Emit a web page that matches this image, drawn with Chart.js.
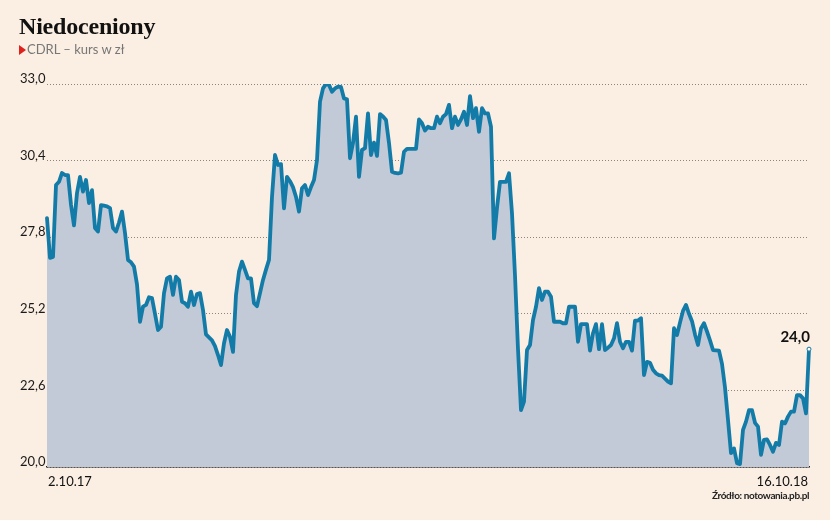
<!DOCTYPE html>
<html>
<head>
<meta charset="utf-8">
<script src="https://cdn.jsdelivr.net/npm/chart.js@4"></script>
<style>
  html,body{margin:0;padding:0;background:#FBEEE2;}
  #wrap{position:relative;width:830px;height:520px;overflow:hidden;}
  #c{position:absolute;left:0;top:0;}
  .t{position:absolute;white-space:nowrap;}
  #title{left:19px;top:13px;font:bold 24px "Liberation Serif","DejaVu Serif",serif;color:#111;letter-spacing:-0.2px;}
  #sub{left:19px;top:41px;font:13px Lato,"Open Sans",sans-serif;color:#777;}
  #sub .tri{display:inline-block;width:0;height:0;border-top:5px solid transparent;border-bottom:5px solid transparent;border-left:7px solid #E0201B;margin-right:1px;vertical-align:-1px;}
  #d0{left:48px;top:473px;font:13px Lato,sans-serif;color:#111;}
  #d1{right:22px;top:473px;font:13px Lato,sans-serif;color:#111;}
  #src{right:21px;top:489px;font:bold 10px Lato,sans-serif;color:#222;letter-spacing:-0.4px;}
</style>
</head>
<body>
<div id="wrap">
  <canvas id="c" width="830" height="520"></canvas>
  <div class="t" id="title">Niedoceniony</div>
  <div class="t" id="sub"><span class="tri"></span>CDRL – kurs w zł</div>
  <div class="t" id="d0"></div>
  <div class="t" id="d1"></div>
  <div class="t" id="src">Źródło: notowania.pb.pl</div>
</div>
<script>
// ---- data ----
const startDate = '2.10.17';
const endDate = '16.10.18';
const closes = [
 28.45,27.1,27.13,29.57,29.68,29.98,29.91,29.91,28.9,28.2,
 29.3,29.85,29.35,29.74,28.96,29.4,28.11,27.99,28.89,28.87,
 28.85,28.79,28.11,27.99,28.3,28.67,27.94,27.03,26.95,26.8,
 26.2,24.93,25.44,25.5,25.76,25.73,25.2,24.65,24.76,25.9,
 26.4,26.46,25.84,26.46,26.35,25.61,25.56,25.44,25.95,25.5,
 25.87,25.9,25.33,24.5,24.4,24.3,24.1,23.8,23.46,24.2,
 24.65,24.42,23.91,25.84,26.63,26.97,26.69,26.4,26.4,25.56,
 25.46,25.9,26.35,26.7,27.03,29.17,30.59,30.25,30.28,28.78,
 29.85,29.7,29.5,29.17,28.67,29.46,29.57,29.23,29.5,29.74,
 30.42,32.4,32.85,33.0,32.97,32.74,32.85,32.91,32.9,32.51,
 32.48,30.48,31.0,31.89,29.85,30.76,30.82,32.0,30.59,31.01,
 30.56,31.98,31.9,31.78,31.0,30.02,29.98,29.97,29.99,30.7,
 30.8,30.8,30.8,30.8,31.8,31.67,31.42,31.55,31.5,31.5,
 31.89,31.67,31.89,31.98,32.29,31.5,31.89,31.61,31.8,32.06,
 31.61,32.59,31.84,32.18,31.38,32.18,32.0,32.0,31.55,27.76,
 28.8,29.68,29.68,29.68,29.97,28.61,26.5,24.0,21.93,22.22,
 23.97,24.14,24.99,25.44,26.07,25.67,25.95,25.95,25.78,24.93,
 24.93,24.93,24.88,24.88,25.44,25.44,25.44,24.25,24.85,24.85,
 24.85,23.95,24.54,24.85,24.0,24.85,23.97,24.05,24.14,24.37,
 24.88,24.25,24.03,24.25,24.25,23.95,24.97,24.97,25.05,23.12,
 23.57,23.54,23.3,23.18,23.12,23.1,23.0,22.9,22.84,24.71,
 24.48,24.9,25.3,25.5,25.2,24.95,24.5,24.14,24.7,24.88,
 24.6,24.3,23.97,23.96,23.95,23.5,22.7,21.6,20.47,20.63,
 20.13,20.1,21.26,21.54,21.93,21.93,21.5,21.37,20.41,20.92,
 20.94,20.75,20.52,20.82,20.75,21.54,21.48,21.71,21.88,21.88,
 22.44,22.44,22.33,21.82,24.0
];
const sessions = closes.map((v, i) => i === 0 ? startDate : (i === closes.length - 1 ? endDate : ''));
const yTickValues = [20.0, 22.6, 25.2, 27.8, 30.4, 33.0];
const yTickLabels = ['20,0', '22,6', '25,2', '27,8', '30,4', '33,0'];
const lastLabel = '24,0';

document.getElementById('d0').textContent = startDate;
document.getElementById('d1').textContent = endDate;

const overlay = {
  id: 'overlay',
  afterDraw(chart) {
    const ctx = chart.ctx;
    const ys = chart.scales.y;
    ctx.save();
    ctx.font = '13px Lato, sans-serif';
    ctx.fillStyle = '#1a1a1a';
    ctx.textAlign = 'left';
    ctx.textBaseline = 'middle';
    yTickValues.forEach((v, i) => {
      ctx.fillText(yTickLabels[i], 20, ys.getPixelForValue(v) - 5);
    });
    const meta = chart.getDatasetMeta(0);
    const last = meta.data[meta.data.length - 1];
    ctx.font = 'bold 15px Lato, sans-serif';
    ctx.fillStyle = '#111';
    ctx.textAlign = 'right';
    ctx.textBaseline = 'alphabetic';
    ctx.fillText(lastLabel, last.x + 1, last.y - 7);
    ctx.restore();
  }
};

new Chart(document.getElementById('c'), {
  type: 'line',
  data: {
    labels: sessions,
    datasets: [{
      data: closes,
      borderColor: '#137BA8',
      borderWidth: 3.8,
      backgroundColor: '#C2C9D7',
      fill: 'start',
      tension: 0,
      borderJoinStyle: 'round',
      borderCapStyle: 'round',
      pointRadius: ctx => ctx.dataIndex === closes.length - 1 ? 2 : 0,
      pointBackgroundColor: '#ffffff',
      pointBorderColor: '#137BA8',
      pointBorderWidth: 1,
      pointHoverRadius: 0
    }]
  },
  options: {
    responsive: false,
    animation: false,
    devicePixelRatio: 1,
    layout: { padding: { left: 47, right: 21, top: 84, bottom: 53 } },
    plugins: { legend: { display: false }, tooltip: { enabled: false }, title: { display: false } },
    scales: {
      x: {
        type: 'category',
        offset: false,
        grid: { display: false, drawTicks: false },
        ticks: { display: false },
        border: { display: true, color: '#222', width: 1.5 }
      },
      y: {
        min: 20, max: 33,
        afterBuildTicks: s => { s.ticks = yTickValues.map(v => ({ value: v })); },
        grid: { color: '#8a8580', lineWidth: 1, drawTicks: false },
        border: { display: false, dash: [1, 2] },
        ticks: { display: false }
      }
    }
  },
  plugins: [overlay]
});
</script>
</body>
</html>
